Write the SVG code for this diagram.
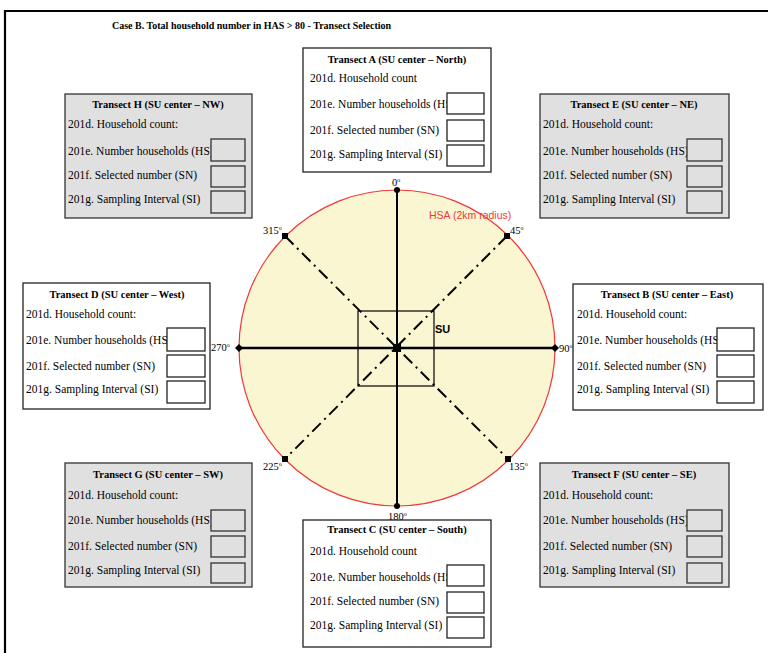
<svg xmlns="http://www.w3.org/2000/svg" width="768" height="653" viewBox="0 0 768 653">
<style>
.t{font-family:"Liberation Serif",serif;font-size:11.5px;fill:#000}
.h{font-family:"Liberation Serif",serif;font-size:10.5px;font-weight:bold;fill:#000;text-anchor:middle}
.w{fill:#fff;stroke:#222;stroke-width:1.3}
.g{fill:#e0e0e0;stroke:#333;stroke-width:1.3}
.ang{font-family:"Liberation Serif",serif;font-size:10.5px;fill:#000}
.deg{font-size:6px}
.sq{fill:#000}
</style>
<rect x="0" y="0" width="768" height="653" fill="#fff"/>
<path d="M5,653 V11 H768" fill="none" stroke="#000" stroke-width="2.2"/>
<text x="112" y="29" class="t" style="font-weight:bold;font-size:10px">Case B. Total household number in HAS &gt; 80 - Transect Selection</text>

<g id="hsa">
<circle cx="397" cy="348" r="158" fill="#faf6d2" stroke="#f03838" stroke-width="1.2"/>
<text x="429" y="219" font-family="Liberation Sans, sans-serif" font-size="10.5" fill="#f03838">HSA (2km radius)</text>
</g>
<g id="su">
<rect x="358" y="311" width="76" height="75" fill="none" stroke="#000" stroke-width="1.2"/>
<text x="435" y="333" font-family="Liberation Sans, sans-serif" font-size="11" font-weight="bold" fill="#000">SU</text>
</g>

<g id="connectors" stroke="#000" fill="none">
<line x1="397" y1="190" x2="397" y2="506" stroke-width="2"/>
<line x1="239" y1="348" x2="555" y2="348" stroke-width="2.6"/>
<line x1="285" y1="236" x2="508" y2="459" stroke-width="2" stroke-dasharray="12 5 2 5"/>
<line x1="507" y1="236" x2="285" y2="459" stroke-width="2" stroke-dasharray="12 5 2 5"/>
</g>
<g id="markers" class="sq">
<rect x="393" y="344" width="8" height="8"/>
<rect x="282" y="233" width="6" height="6"/>
<rect x="504" y="233" width="6" height="6"/>
<rect x="282" y="456" width="6" height="6"/>
<rect x="505" y="456" width="6" height="6"/>
<circle cx="397" cy="190" r="3"/>
<circle cx="397" cy="506" r="3"/>
<path d="M239,344 l4,4 -4,4 -4,-4z"/>
<path d="M555,344 l4,4 -4,4 -4,-4z"/>
</g>
<g id="angles" class="ang">
<text x="392" y="186">0<tspan class="deg" dy="-4">o</tspan></text>
<text x="263" y="234">315<tspan class="deg" dy="-4">o</tspan></text>
<text x="510" y="234">45<tspan class="deg" dy="-4">o</tspan></text>
<text x="211" y="351">270<tspan class="deg" dy="-4">o</tspan></text>
<text x="559" y="352">90<tspan class="deg" dy="-4">o</tspan></text>
<text x="263" y="470">225<tspan class="deg" dy="-4">o</tspan></text>
<text x="509" y="470">135<tspan class="deg" dy="-4">o</tspan></text>
<text x="388" y="520">180<tspan class="deg" dy="-4">o</tspan></text>
</g>

<g id="transectA">
<rect x="303" y="48" width="188" height="124" class="w"/>
<text x="397" y="63" class="h">Transect A (SU center – North)</text>
<text x="310" y="82" class="t">201d. Household count</text>
<text x="310" y="108" class="t">201e. Number households (HS)</text>
<text x="310" y="134" class="t">201f. Selected number (SN)</text>
<text x="310" y="158" class="t">201g. Sampling Interval (SI)</text>
<rect x="447" y="93" width="37" height="21" class="w"/>
<rect x="447" y="120" width="37" height="21" class="w"/>
<rect x="447" y="145" width="37" height="21" class="w"/>
</g>

<g id="transectH">
<rect x="65" y="94" width="187" height="124" class="g"/>
<text x="158" y="108" class="h">Transect H (SU center – NW)</text>
<text x="68" y="128" class="t">201d. Household count:</text>
<text x="68" y="155" class="t">201e. Number households (HS)</text>
<text x="68" y="179" class="t">201f. Selected number (SN)</text>
<text x="68" y="203" class="t">201g. Sampling Interval (SI)</text>
<rect x="211" y="139" width="34" height="22" class="g"/>
<rect x="211" y="166" width="34" height="21" class="g"/>
<rect x="211" y="191" width="34" height="22" class="g"/>
</g>

<g id="transectE">
<rect x="540" y="94" width="189" height="124" class="g"/>
<text x="634" y="108" class="h">Transect E (SU center – NE)</text>
<text x="543" y="128" class="t">201d. Household count:</text>
<text x="543" y="155" class="t">201e. Number households (HS)</text>
<text x="543" y="179" class="t">201f. Selected number (SN)</text>
<text x="543" y="203" class="t">201g. Sampling Interval (SI)</text>
<rect x="687" y="139" width="35" height="22" class="g"/>
<rect x="687" y="166" width="35" height="21" class="g"/>
<rect x="687" y="191" width="35" height="22" class="g"/>
</g>

<g id="transectD">
<rect x="23" y="283" width="187" height="126" class="w"/>
<text x="117" y="298" class="h">Transect D (SU center – West)</text>
<text x="26" y="318" class="t">201d. Household count:</text>
<text x="26" y="344" class="t">201e. Number households (HS)</text>
<text x="26" y="370" class="t">201f. Selected number (SN)</text>
<text x="26" y="393" class="t">201g. Sampling Interval (SI)</text>
<rect x="167" y="328" width="38" height="23" class="w"/>
<rect x="167" y="355" width="38" height="22" class="w"/>
<rect x="167" y="381" width="38" height="22" class="w"/>
</g>

<g id="transectB">
<rect x="573" y="284" width="190" height="126" class="w"/>
<text x="667" y="298" class="h">Transect B (SU center – East)</text>
<text x="577" y="318" class="t">201d. Household count:</text>
<text x="577" y="344" class="t">201e. Number households (HS)</text>
<text x="577" y="370" class="t">201f. Selected number (SN)</text>
<text x="577" y="393" class="t">201g. Sampling Interval (SI)</text>
<rect x="717" y="328" width="37" height="23" class="w"/>
<rect x="717" y="355" width="37" height="22" class="w"/>
<rect x="717" y="381" width="37" height="22" class="w"/>
</g>

<g id="transectG">
<rect x="65" y="463" width="187" height="124" class="g"/>
<text x="158" y="478" class="h">Transect G (SU center – SW)</text>
<text x="68" y="499" class="t">201d. Household count:</text>
<text x="68" y="524" class="t">201e. Number households (HS)</text>
<text x="68" y="550" class="t">201f. Selected number (SN)</text>
<text x="68" y="574" class="t">201g. Sampling Interval (SI)</text>
<rect x="211" y="510" width="34" height="21" class="g"/>
<rect x="211" y="536" width="34" height="21" class="g"/>
<rect x="211" y="563" width="34" height="20" class="g"/>
</g>

<g id="transectF">
<rect x="540" y="463" width="189" height="124" class="g"/>
<text x="634" y="478" class="h">Transect F (SU center – SE)</text>
<text x="543" y="499" class="t">201d. Household count:</text>
<text x="543" y="524" class="t">201e. Number households (HS)</text>
<text x="543" y="550" class="t">201f. Selected number (SN)</text>
<text x="543" y="574" class="t">201g. Sampling Interval (SI)</text>
<rect x="687" y="510" width="35" height="21" class="g"/>
<rect x="687" y="536" width="35" height="21" class="g"/>
<rect x="687" y="563" width="35" height="20" class="g"/>
</g>

<g id="transectC">
<rect x="303" y="520" width="188" height="127" class="w"/>
<text x="397" y="533" class="h">Transect C (SU center – South)</text>
<text x="310" y="555" class="t">201d. Household count</text>
<text x="310" y="581" class="t">201e. Number households (HS)</text>
<text x="310" y="605" class="t">201f. Selected number (SN)</text>
<text x="310" y="629" class="t">201g. Sampling Interval (SI)</text>
<rect x="447" y="565" width="37" height="21" class="w"/>
<rect x="447" y="592" width="37" height="21" class="w"/>
<rect x="447" y="617" width="37" height="21" class="w"/>
</g>
</svg>
